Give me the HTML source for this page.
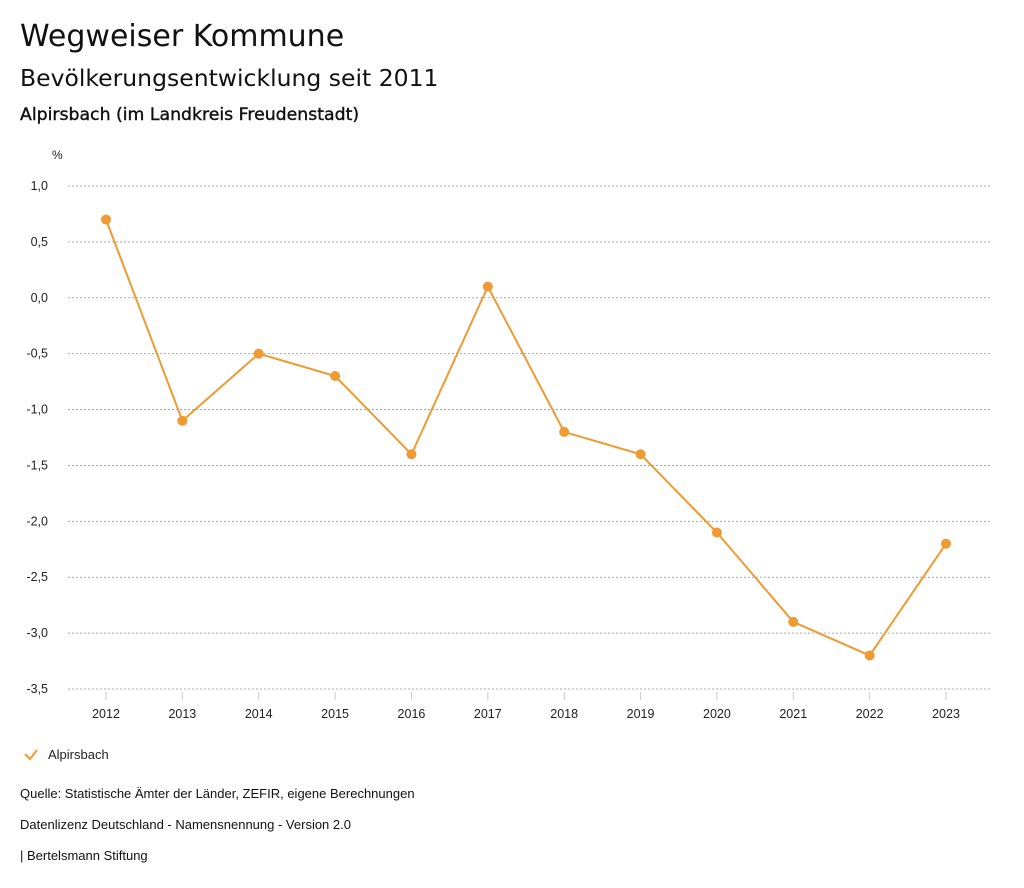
<!DOCTYPE html>
<html><head><meta charset="utf-8"><style>
body{margin:0;background:#fff;font-family:"Liberation Sans","DejaVu Sans",sans-serif;color:#111;}
.t1{position:absolute;left:20px;top:19px;font-size:30px;font-family:"DejaVu Sans",sans-serif;}
.t2{position:absolute;left:20px;top:64px;font-size:23.5px;font-family:"DejaVu Sans",sans-serif;}
.t3{position:absolute;left:20px;top:105px;font-size:17.3px;font-family:"DejaVu Sans",sans-serif;-webkit-text-stroke:0.4px #111;}
.f{position:absolute;left:20px;font-size:13px;}
</style></head><body>
<div class="t1">Wegweiser Kommune</div>
<div class="t2">Bevölkerungsentwicklung seit 2011</div>
<div class="t3">Alpirsbach (im Landkreis Freudenstadt)</div>
<svg id="chart" width="1024" height="888" style="position:absolute;left:0;top:0"></svg>
<div class="f" style="top:786px">Quelle: Statistische Ämter der Länder, ZEFIR, eigene Berechnungen</div>
<div class="f" style="top:817px">Datenlizenz Deutschland - Namensnennung - Version 2.0</div>
<div class="f" style="top:848px">| Bertelsmann Stiftung</div>
<script>
const years=["2012","2013","2014","2015","2016","2017","2018","2019","2020","2021","2022","2023"];
const values=[0.7,-1.1,-0.5,-0.7,-1.4,0.1,-1.2,-1.4,-2.1,-2.9,-3.2,-2.2];
const yTicks=[1.0,0.5,0.0,-0.5,-1.0,-1.5,-2.0,-2.5,-3.0,-3.5];
const ns="http://www.w3.org/2000/svg";
const svg=document.getElementById('chart');
function y(v){return 186+(1.0-v)*(689-186)/4.5;}
function x(i){return 106+i*(946-106)/(years.length-1);}
function mk(t,a,p){const e=document.createElementNS(ns,t);for(const k in a)e.setAttribute(k,a[k]);(p||svg).appendChild(e);return e;}
const u=mk('text',{x:52,y:159,'font-size':12,fill:'#222'});u.textContent='%';


yTicks.forEach(v=>{
 const l=mk('line',{x1:68,x2:990,y1:y(v),y2:y(v),stroke:'#aaa','stroke-dasharray':'2,2','stroke-width':1});
 
 
 const t=mk('text',{x:48,y:y(v)+4,'font-size':12.5,'text-anchor':'end',fill:'#222'});
 t.textContent=v.toFixed(1).replace('.',',');
 
 
});
years.forEach((yr,i)=>{
 const l=mk('line',{x1:x(i),x2:x(i),y1:692,y2:700,stroke:'#ccc'});
 
 
 const t=mk('text',{x:x(i),y:718,'font-size':12.5,'text-anchor':'middle',fill:'#222'});
 t.textContent=yr;
 
 
});
const p=mk('polyline',{points:values.map((v,i)=>x(i)+','+y(v)).join(' '),fill:'none',stroke:'#ef9a32','stroke-width':2});


values.forEach((v,i)=>{
 const c=mk('circle',{cx:x(i),cy:y(v),r:5,fill:'#ef9a32'});
 
 
});
const g=mk('g',{});


mk('polyline',{points:'25,754 30,759 37,750',fill:'none',stroke:'#ef9a32','stroke-width':2},g);
const lt=mk('text',{x:48,y:759,'font-size':13,fill:'#222'},g);lt.textContent='Alpirsbach';
</script>
</body></html>
